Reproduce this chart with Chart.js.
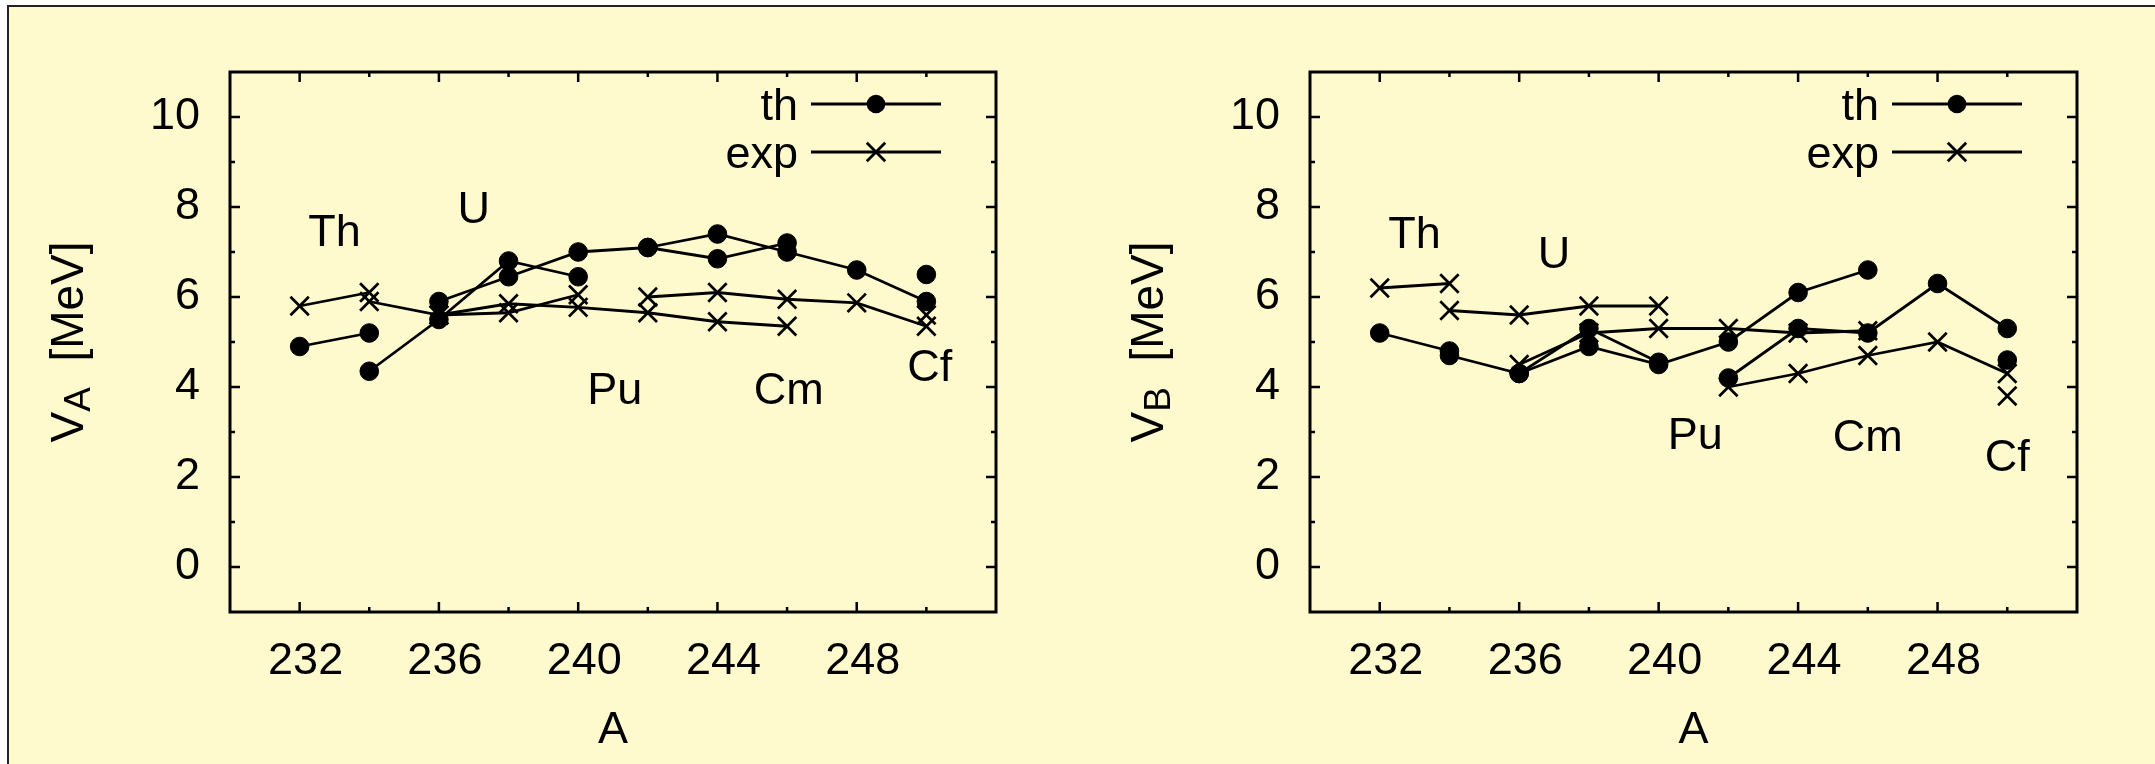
<!DOCTYPE html>
<html>
<head>
<meta charset="utf-8">
<script src="https://cdn.jsdelivr.net/npm/chart.js@4.4.1/dist/chart.umd.min.js"></script>
<style>
    html, body { margin: 0; padding: 0; background: #fff; }
    #page { position: relative; width: 2155px; height: 764px; overflow: hidden; }
    #frame { position: absolute; left: 7px; top: 5px; right: 0; bottom: 0; background: #fffacd;
             border-left: 2px solid #222; border-top: 2px solid #222; }
    canvas { position: absolute; top: 0; }
    #chart-a { left: 0; }
    #chart-b { left: 1100px; }
</style>
</head>
<body>
<div id="page">
    <div id="frame"></div>
    <canvas id="chart-a" width="1100" height="764"></canvas>
    <canvas id="chart-b" width="1055" height="764"></canvas>
</div>
<script>
// axis ticks
var xTicks = [232, 236, 240, 244, 248];
var xMinorTicks = [234, 238, 242, 246, 250];
var yTicks = [0, 2, 4, 6, 8, 10];
var yMinorTicks = [1, 3, 5, 7, 9];

// isotopes (mass numbers A) of each element chain
var elements = ['Th', 'U', 'Pu', 'Cm', 'Cf'];
var massTh = [232, 234];
var massU = [234, 236, 238, 240];
var massPu = [236, 238, 240, 242, 244, 246];
var massCm = [242, 244, 246, 248, 250];
var massCf = [250];

// inner barrier V_A [MeV]
var vaThTheory = [4.9, 5.2];
var vaUTheory = [4.35, 5.5, 6.8, 6.45];
var vaPuTheory = [5.9, 6.45, 7.0, 7.1, 6.85, 7.2];
var vaCmTheory = [7.1, 7.4, 7.0, 6.6, 5.9];
var vaCfTheory = [6.5];
var vaThExp = [5.8, 6.1];
var vaUExp = [5.9, 5.6, 5.65, 6.05];
var vaPuExp = [5.6, 5.85, 5.77, 5.65, 5.45, 5.35];
var vaCmExp = [6.0, 6.1, 5.95, 5.87, 5.35];
var vaCfExp = [5.6];

// outer barrier V_B [MeV]
var vbThTheory = [5.2, 4.8];
var vbUTheory = [4.7, 4.3, 5.3, 4.55];
var vbPuTheory = [4.3, 4.9, 4.5, 5.0, 6.1, 6.6];
var vbCmTheory = [4.2, 5.3, 5.2, 6.3, 5.3];
var vbCfTheory = [4.6];
var vbThExp = [6.2, 6.3];
var vbUExp = [5.7, 5.6, 5.8, 5.8];
var vbPuExp = [4.5, 5.2, 5.3, 5.3, 5.2, 5.25];
var vbCmExp = [4.0, 4.3, 4.7, 5.0, 4.3];
var vbCfExp = [3.8];

// where the element names sit (A, V)
var labelMassA = [233, 237, 241.05, 246.05, 250.1];
var labelValueA = [7.5, 8.0, 3.97, 3.97, 4.48];
var labelMassB = [233, 237, 241.05, 246, 250];
var labelValueB = [7.45, 7.0, 2.97, 2.93, 2.48];

var legendNames = ['th', 'exp'];

var FONT = '"Liberation Sans", Arial, Helvetica, sans-serif';
var INK = '#000';

var ChartModule = (function () {
    var masses = [massTh, massU, massPu, massCm, massCf];

    function makeSet(mass, values, kind) {
        var pts = [];
        mass.forEach(function (m, j) {
            pts.push({ x: m, y: values[j] });
        });
        var isCircle = kind === 'th';
        return {
            label: kind,
            data: pts,
            showLine: true,
            borderColor: INK,
            backgroundColor: INK,
            borderWidth: 2.8,
            pointStyle: isCircle ? 'circle' : 'crossRot',
            pointRadius: isCircle ? 9.3 : 13,
            pointBorderWidth: isCircle ? 1 : 2.7,
            pointBackgroundColor: INK,
            pointBorderColor: INK,
            pointHoverRadius: isCircle ? 9.3 : 13,
            tension: 0
        };
    }

    function buildDatasets(theory, exp) {
        var ds = [];
        for (var i = 0; i < masses.length; i++) {
            ds.push(makeSet(masses[i], theory[i], 'th'));
        }
        for (var k = 0; k < masses.length; k++) {
            ds.push(makeSet(masses[k], exp[k], 'exp'));
        }
        return ds;
    }

    function drawCross(ctx, x, y, r) {
        ctx.beginPath();
        ctx.moveTo(x - r, y - r);
        ctx.lineTo(x + r, y + r);
        ctx.moveTo(x - r, y + r);
        ctx.lineTo(x + r, y - r);
        ctx.stroke();
    }

    function decorPlugin(sub, labelMass, labelValue) {
        return {
            id: 'decor',
            afterDraw: function (chart) {
                var ctx = chart.ctx;
                var a = chart.chartArea;
                var xs = chart.scales.x;
                var ys = chart.scales.y;
                ctx.save();
                ctx.strokeStyle = INK;
                ctx.fillStyle = INK;

                // frame
                ctx.lineWidth = 3;
                ctx.strokeRect(a.left, a.top, a.right - a.left, a.bottom - a.top);

                // inward ticks on all four sides
                ctx.lineWidth = 2.5;
                function xTick(v, len) {
                    var px = xs.getPixelForValue(v);
                    ctx.beginPath();
                    ctx.moveTo(px, a.bottom); ctx.lineTo(px, a.bottom - len);
                    ctx.moveTo(px, a.top); ctx.lineTo(px, a.top + len);
                    ctx.stroke();
                }
                function yTick(v, len) {
                    var py = ys.getPixelForValue(v);
                    ctx.beginPath();
                    ctx.moveTo(a.left, py); ctx.lineTo(a.left + len, py);
                    ctx.moveTo(a.right, py); ctx.lineTo(a.right - len, py);
                    ctx.stroke();
                }
                xTicks.forEach(function (v) { xTick(v, 10); });
                xMinorTicks.forEach(function (v) { xTick(v, 5); });
                yTicks.forEach(function (v) { yTick(v, 10); });
                yMinorTicks.forEach(function (v) { yTick(v, 5); });

                // element names
                ctx.font = '45px ' + FONT;
                ctx.textAlign = 'center';
                ctx.textBaseline = 'alphabetic';
                elements.forEach(function (name, i) {
                    ctx.fillText(name, xs.getPixelForValue(labelMass[i]), ys.getPixelForValue(labelValue[i]) + 16);
                });

                // legend
                var lineStart = a.right - 185;
                var lineEnd = a.right - 55;
                var mid = (lineStart + lineEnd) / 2;
                legendNames.forEach(function (name, i) {
                    var y = a.top + 32 + 48 * i;
                    ctx.textAlign = 'right';
                    ctx.fillText(name, lineStart - 13, y + 16);
                    ctx.lineWidth = 2.8;
                    ctx.beginPath();
                    ctx.moveTo(lineStart, y);
                    ctx.lineTo(lineEnd, y);
                    ctx.stroke();
                    if (i === 0) {
                        ctx.beginPath();
                        ctx.arc(mid, y, 9.3, 0, Math.PI * 2);
                        ctx.fill();
                    } else {
                        drawCross(ctx, mid, y, 9.2);
                    }
                });

                // y title with subscript
                ctx.translate(a.left - 147, (a.top + a.bottom) / 2);
                ctx.rotate(-Math.PI / 2);
                ctx.textAlign = 'left';
                ctx.font = '46px ' + FONT;
                var wV = ctx.measureText('V').width;
                var wRest = ctx.measureText('  [MeV]').width;
                ctx.font = '37px ' + FONT;
                var wSub = ctx.measureText(sub).width;
                var x0 = -(wV + wSub + wRest) / 2;
                ctx.font = '46px ' + FONT;
                ctx.fillText('V', x0, 0);
                ctx.font = '37px ' + FONT;
                ctx.fillText(sub, x0 + wV, 7);
                ctx.font = '46px ' + FONT;
                ctx.fillText('  [MeV]', x0 + wV + wSub, 0);
                ctx.restore();
            }
        };
    }

    function render(canvasId, theory, exp, sub, labelMass, labelValue, leftWidth, padRight) {
        var canvas = document.getElementById(canvasId);
        var tickFont = { family: FONT, size: 45 };
        return new Chart(canvas.getContext('2d'), {
            type: 'scatter',
            data: { datasets: buildDatasets(theory, exp) },
            options: {
                responsive: false,
                animation: false,
                devicePixelRatio: 1,
                events: [],
                layout: { padding: { top: 72, right: padRight, left: 0, bottom: 0 } },
                plugins: { legend: { display: false }, tooltip: { enabled: false } },
                scales: {
                    x: {
                        type: 'linear',
                        min: 230,
                        max: 252,
                        afterBuildTicks: function (axis) {
                            axis.ticks = xTicks.map(function (v) { return { value: v }; });
                        },
                        afterFit: function (s) { s.height = 152; },
                        grid: { display: false, drawTicks: false },
                        border: { display: false },
                        ticks: { font: tickFont, color: INK, padding: 23, labelOffset: 6, maxRotation: 0 },
                        title: { display: true, text: 'A', font: tickFont, color: INK, padding: { top: 0, bottom: 6 } }
                    },
                    y: {
                        type: 'linear',
                        min: -1,
                        max: 11,
                        afterBuildTicks: function (axis) {
                            axis.ticks = yTicks.map(function (v) { return { value: v }; });
                        },
                        afterFit: function (s) { s.width = leftWidth; },
                        grid: { display: false, drawTicks: false },
                        border: { display: false },
                        ticks: { font: tickFont, color: INK, padding: 30 }
                    }
                }
            },
            plugins: [decorPlugin(sub, labelMass, labelValue)]
        });
    }

    function init() {
        render('chart-a',
            [vaThTheory, vaUTheory, vaPuTheory, vaCmTheory, vaCfTheory],
            [vaThExp, vaUExp, vaPuExp, vaCmExp, vaCfExp],
            'A', labelMassA, labelValueA, 230, 104);
        render('chart-b',
            [vbThTheory, vbUTheory, vbPuTheory, vbCmTheory, vbCfTheory],
            [vbThExp, vbUExp, vbPuExp, vbCmExp, vbCfExp],
            'B', labelMassB, labelValueB, 210, 78);
    }

    return { init: init };
})();

ChartModule.init();
</script>
</body>
</html>
